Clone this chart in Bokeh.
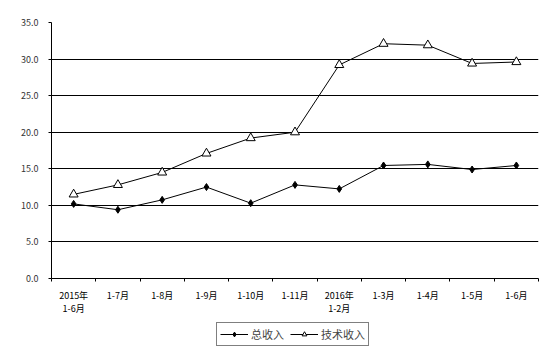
from bokeh.plotting import figure
from bokeh.models import Range1d, FixedTicker, Legend, LegendItem
from bokeh.layouts import column
from bokeh.embed import file_html
from bokeh.resources import INLINE

categories = ["2015年\n1-6月", "1-7月", "1-8月", "1-9月", "1-10月", "1-11月",
              "2016年\n1-2月", "1-3月", "1-4月", "1-5月", "1-6月"]
total_income = [10.2, 9.4, 10.75, 12.5, 10.3, 12.8, 12.25, 15.45, 15.6, 14.9, 15.45]
tech_income = [11.5, 12.8, 14.5, 17.1, 19.2, 20.0, 29.2, 32.1, 31.9, 29.4, 29.6]
y_ticks = [0, 5, 10, 15, 20, 25, 30, 35]
series_names = ["总收入", "技术收入"]

xs = [i + 0.5 for i in range(len(categories))]

p = figure(width=553, height=318, output_backend="svg", toolbar_location=None,
           x_range=Range1d(0, len(categories)), y_range=Range1d(0, 35),
           min_border_left=51, min_border_right=15, min_border_top=22, min_border_bottom=40)
p.outline_line_color = None
p.background_fill_color = "white"
p.border_fill_color = "white"

font = "Noto Sans CJK SC"

# x axis
p.xaxis.ticker = FixedTicker(ticks=xs, minor_ticks=list(range(len(categories) + 1)))
p.xaxis.major_label_overrides = {x: c for x, c in zip(xs, categories)}
p.xaxis.major_tick_line_color = None
p.xaxis.major_tick_out = 0
p.xaxis.major_tick_in = 0
p.xaxis.minor_tick_out = 3
p.xaxis.minor_tick_in = 0
p.xaxis.minor_tick_line_color = "black"
p.xaxis.axis_line_color = "black"
p.xaxis.major_label_standoff = 7
p.xaxis.major_label_text_font = font
p.xaxis.major_label_text_font_size = "9px"
p.xaxis.major_label_text_line_height = 1.0
p.xaxis.major_label_text_color = "black"

# y axis
p.yaxis.ticker = FixedTicker(ticks=y_ticks)
p.yaxis.major_label_overrides = {t: f"{t:.1f}" for t in y_ticks}
p.yaxis.minor_tick_line_color = None
p.yaxis.major_tick_out = 3
p.yaxis.major_tick_in = 0
p.yaxis.major_tick_line_color = "black"
p.yaxis.axis_line_color = "black"
p.yaxis.major_label_standoff = 10
p.yaxis.major_label_text_font = font
p.yaxis.major_label_text_font_size = "9px"
p.yaxis.major_label_text_color = "#333333"

p.xgrid.grid_line_color = None
p.ygrid.ticker = FixedTicker(ticks=[5, 10, 15, 20, 25, 30])
p.ygrid.grid_line_color = "black"
p.ygrid.grid_line_width = 1

p.line(xs, total_income, line_color="black", line_width=1)
p.scatter(xs, total_income, marker="diamond", size=7, fill_color="black", line_color="black")
p.line(xs, tech_income, line_color="black", line_width=1)
p.scatter(xs, tech_income, marker="triangle", size=9, fill_color="white", line_color="black")

# legend strip below the chart (sample glyphs placed outside its visible range)
q = figure(width=553, height=33, output_backend="svg", toolbar_location=None,
           x_range=Range1d(0, 1), y_range=Range1d(0, 1),
           min_border_left=0, min_border_right=0, min_border_top=0, min_border_bottom=0)
q.axis.visible = False
q.grid.visible = False
q.outline_line_color = None
q.border_fill_color = "white"
q.background_fill_color = "white"
off = [-10, -9]
l1 = q.line(off, off, line_color="black", line_width=1)
s1 = q.scatter(off, off, marker="diamond", size=7, fill_color="black", line_color="black")
l2 = q.line(off, off, line_color="black", line_width=1)
s2 = q.scatter(off, off, marker="triangle", size=9, fill_color="white", line_color="black")

legend = Legend(items=[LegendItem(label=series_names[0], renderers=[l1, s1]),
                       LegendItem(label=series_names[1], renderers=[l2, s2])],
                orientation="horizontal", location=(165, 5),
                border_line_color="black", border_line_width=1,
                background_fill_color="white", background_fill_alpha=1,
                label_text_font=font, label_text_font_size="11px",
                glyph_width=28, glyph_height=12, label_standoff=3,
                spacing=6, padding=3, margin=0, label_height=12)
q.add_layout(legend, "center")

layout = column(p, q, spacing=0)
open("out.html", "w").write(file_html(layout, INLINE))
